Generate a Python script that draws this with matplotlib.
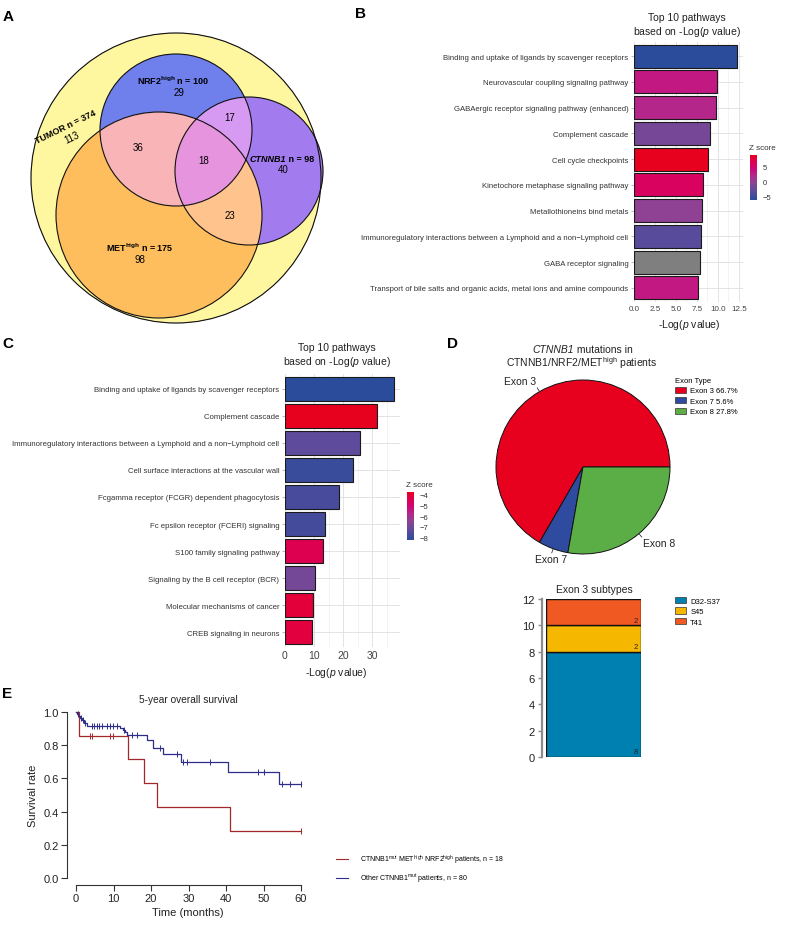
import numpy as np
import matplotlib
matplotlib.use('Agg')
import matplotlib.pyplot as plt
from matplotlib.patches import Circle, Patch
from matplotlib.lines import Line2D
from matplotlib.colors import LinearSegmentedColormap, Normalize, to_rgb
from matplotlib.ticker import MultipleLocator, FormatStrFormatter
import matplotlib.cm as cm

plt.rcParams['font.family'] = ['Liberation Sans', 'DejaVu Sans']
plt.rcParams['mathtext.fontset'] = 'custom'
plt.rcParams['mathtext.rm'] = 'Liberation Sans'
plt.rcParams['mathtext.it'] = 'Liberation Sans:italic'
plt.rcParams['mathtext.bf'] = 'Liberation Sans:bold'

# ---------------- data ----------------
venn_sets = ['TUMOR', 'NRF2', 'CTNNB1', 'MET']
venn_totals = [374, 100, 98, 175]
venn_region_names = ['TUMOR only', 'NRF2 only', 'CTNNB1 only', 'MET only',
                     'NRF2&MET', 'NRF2&CTNNB1', 'MET&CTNNB1', 'NRF2&MET&CTNNB1']
venn_counts = [113, 29, 40, 98, 36, 17, 23, 18]

b_pathways = ['Binding and uptake of ligands by scavenger receptors',
              'Neurovascular coupling signaling pathway',
              'GABAergic receptor signaling pathway (enhanced)',
              'Complement cascade',
              'Cell cycle checkpoints',
              'Kinetochore metaphase signaling pathway',
              'Metallothioneins bind metals',
              'Immunoregulatory interactions between a Lymphoid and a non\u2212Lymphoid cell',
              'GABA receptor signaling',
              'Transport of bile salts and organic acids, metal ions and amine compounds']
b_logp = [12.26, 9.9, 9.75, 9.05, 8.8, 8.2, 8.1, 8.0, 7.85, 7.6]
b_z = [-6.3, 3.0, 2.0, -1.8, 8.7, 5.7, -0.3, -3.6, np.nan, 3.0]

c_pathways = ['Binding and uptake of ligands by scavenger receptors',
              'Complement cascade',
              'Immunoregulatory interactions between a Lymphoid and a non\u2212Lymphoid cell',
              'Cell surface interactions at the vascular wall',
              'Fcgamma receptor (FCGR) dependent phagocytosis',
              'Fc epsilon receptor (FCERI) signaling',
              'S100 family signaling pathway',
              'Signaling by the B cell receptor (BCR)',
              'Molecular mechanisms of cancer',
              'CREB signaling in neurons']
c_logp = [37.6, 31.7, 25.9, 23.4, 18.6, 13.8, 13.1, 10.4, 9.6, 9.4]
c_z = [-8.2, -3.8, -7.3, -7.95, -7.7, -7.75, -4.45, -6.9, -4.15, -4.2]

exon_types = ['Exon 3', 'Exon 7', 'Exon 8']
exon_counts = [12, 1, 5]

subtypes = ['D32-S37', 'S45', 'T41']
subtype_counts = [8, 2, 2]

km_red_t = [0, 0.8, 13.8, 18.0, 21.5, 41.0]
km_red_s = [1.0, 0.857, 0.714, 0.571, 0.429, 0.286]
km_red_cens = [3.7, 4.3, 9.1, 9.8, 60]
km_blue_t = [0, 0.3, 0.6, 1.0, 1.5, 2.2, 3.0, 11.8, 12.4, 13.0, 13.6, 18.8, 20.4, 23.3, 27.9, 40.4, 54.0]
km_blue_s = [1.0, 0.99, 0.975, 0.963, 0.95, 0.935, 0.917, 0.905, 0.893, 0.88, 0.861, 0.83, 0.783, 0.747, 0.697, 0.64, 0.567]
km_blue_cens = [0.5, 1.2, 1.8, 2.5, 4.2, 4.8, 5.5, 6.2, 7.0, 8.2, 9.0, 9.8, 10.8, 12.8, 14.8, 16.2,
                22.4, 26.8, 28.6, 29.5, 35.6, 48.5, 50.2, 54.8, 57.1, 59.9]
km_max_t = 60

# ---------------- figure helpers ----------------
W, H = 787, 928
fig = plt.figure(figsize=(W / 100, H / 100), dpi=100)


def box(x0, y0, x1, y1):
    return fig.add_axes([x0 / W, 1 - y1 / H, (x1 - x0) / W, (y1 - y0) / H])


def ftext(x, y, s, **kw):
    return fig.text(x / W, 1 - y / H, s, **kw)


for lab, (x, y) in zip('ABCDE', [(3, 21), (355, 18), (2, 348), (447, 348), (2, 698)]):
    ftext(x, y, lab, fontsize=11, fontweight='bold', va='baseline')

# ---------------- A: Venn ----------------
axA = box(0, 0, 330, 330)
axA.set_xlim(0, 330)
axA.set_ylim(330, 0)
axA.axis('off')
circ = {'TUMOR': ((176, 179), 145), 'NRF2': ((176, 131), 76),
        'CTNNB1': ((249, 172), 74), 'MET': ((159, 216), 103)}
res = 4
xs = (np.arange(330 * res) + 0.5) / res
X, Y = np.meshgrid(xs, xs)


def inside(name):
    (cx, cy), r = circ[name]
    return (X - cx) ** 2 + (Y - cy) ** 2 <= r ** 2


T, N, C, M = inside('TUMOR'), inside('NRF2'), inside('CTNNB1'), inside('MET')
region_masks = [T & ~N & ~C & ~M, N & ~C & ~M, C & ~N & ~M, M & ~N & ~C,
                N & M & ~C, N & C & ~M, M & C & ~N, N & M & C]
region_colors = ['#FFF7A0', '#6F80EE', '#A27CF0', '#FFBE5E',
                 '#F8B4B6', '#D79AF3', '#FFC48E', '#E794DF']
img = np.zeros(X.shape + (4,))
for mk, col in zip(region_masks, region_colors):
    img[mk, :3] = to_rgb(col)
    img[mk, 3] = 1.0
axA.imshow(img, extent=(0, 330, 330, 0), origin='upper', interpolation='antialiased', zorder=1)
for name in venn_sets:
    (cx, cy), r = circ[name]
    axA.add_patch(Circle((cx, cy), r, fill=False, ec='#111111', lw=0.8, zorder=3))

cnt = dict(zip(venn_region_names, venn_counts))
tot = dict(zip(venn_sets, venn_totals))
fs_v = 6.5
fs_n = 7
axA.text(66, 127, f'TUMOR n = {tot["TUMOR"]}', rotation=26, ha='center', va='center',
         fontsize=fs_v, fontweight='bold', zorder=5)
axA.text(72, 138, f'{cnt["TUMOR only"]}', rotation=26, ha='center', va='center', fontsize=fs_n, zorder=5)
axA.text(173, 81, 'NRF2$^{\\mathregular{high}}$ n = ' + str(tot['NRF2']), ha='center', va='center',
         fontsize=fs_v, fontweight='bold', zorder=5)
axA.text(179, 93, str(cnt['NRF2 only']), ha='center', va='center', fontsize=fs_n, zorder=5)
axA.text(286, 159, 'CTNNB1', ha='right', va='center', fontsize=fs_v, fontweight='bold',
         fontstyle='italic', zorder=5)
axA.text(286, 159, f' n = {tot["CTNNB1"]}', ha='left', va='center', fontsize=fs_v, fontweight='bold', zorder=5)
axA.text(283, 170, str(cnt['CTNNB1 only']), ha='center', va='center', fontsize=fs_n, zorder=5)
axA.text(140, 248, 'MET$^{\\mathregular{high}}$ n = ' + str(tot['MET']), ha='center', va='center',
         fontsize=fs_v, fontweight='bold', zorder=5)
axA.text(140, 260, str(cnt['MET only']), ha='center', va='center', fontsize=fs_n, zorder=5)
axA.text(138, 148, str(cnt['NRF2&MET']), ha='center', va='center', fontsize=fs_n, zorder=5)
axA.text(230, 118, str(cnt['NRF2&CTNNB1']), ha='center', va='center', fontsize=fs_n, zorder=5)
axA.text(204, 161, str(cnt['NRF2&MET&CTNNB1']), ha='center', va='center', fontsize=fs_n, zorder=5)
axA.text(230, 216, str(cnt['MET&CTNNB1']), ha='center', va='center', fontsize=fs_n, zorder=5)

# ---------------- B / C: pathway bars ----------------
z_cmap = LinearSegmentedColormap.from_list(
    'z', [(0, '#2B4C9B'), (0.2, '#5E4B9B'), (0.38, '#8A4494'), (0.55, '#B4278A'),
          (0.7, '#CF0677'), (0.85, '#DE0052'), (1, '#E8001F')])
title_txt = 'Top 10 pathways\nbased on -Log($\\it{p}$ value)'


def pathway_panel(box_px, names, vals, zs, zrange, xlim, major, minor, xtick_fmt, tick_fs,
                  cbar_px, cbar_ticks, title_xy, xlabel_xy):
    ax = box(*box_px)
    norm = Normalize(*zrange)
    y = np.arange(len(names))
    cols = ['#7F7F7F' if np.isnan(z) else z_cmap(norm(z)) for z in zs]
    ax.barh(y, vals, height=0.9, color=cols, edgecolor='#1a1a1a', lw=0.8, zorder=3)
    ax.set_xlim(*xlim)
    ax.set_ylim(len(names) - 0.45, -0.55)
    ax.set_yticks(y)
    ax.set_yticklabels(names, fontsize=5.6, color='#333333')
    ax.xaxis.set_major_locator(MultipleLocator(major))
    ax.xaxis.set_minor_locator(MultipleLocator(minor))
    ax.xaxis.set_major_formatter(FormatStrFormatter(xtick_fmt))
    ax.tick_params(axis='x', labelsize=tick_fs, colors='#444444', length=0, pad=2)
    ax.tick_params(axis='x', which='minor', length=0)
    ax.tick_params(axis='y', length=2, color='#bbbbbb', pad=2)
    ax.grid(True, which='major', color='#dedede', lw=0.6, zorder=0)
    ax.grid(True, which='minor', axis='x', color='#eeeeee', lw=0.5, zorder=0)
    for s in ax.spines.values():
        s.set_visible(False)
    ftext(title_xy[0], title_xy[1], title_txt, ha='center', va='center', fontsize=7.5,
          linespacing=1.15, color='#222222')
    ftext(xlabel_xy[0], xlabel_xy[1], '-Log($\\it{p}$ value)', ha='center', va='center',
          fontsize=7.5, color='#222222')
    cax = box(*cbar_px)
    cb = fig.colorbar(cm.ScalarMappable(norm=norm, cmap=z_cmap), cax=cax)
    cb.outline.set_visible(False)
    cb.set_ticks(cbar_ticks)
    cax.tick_params(labelsize=5.5, length=2, color='white', pad=2, labelcolor='#333333')
    ftext(cbar_px[0] - 1, cbar_px[1] - 7, 'Z score', ha='left', va='center', fontsize=5.8,
          color='#333333')
    return ax


pathway_panel((634, 43, 743, 303), b_pathways, b_logp, b_z, (-6.3, 8.7), (0, 13.0),
              2.5, 1.25, '%.1f', 5.8, (750, 156, 757, 201), [-5, 0, 5], (687, 26), (689, 325))
pathway_panel((285, 375, 400, 648), c_pathways, c_logp, c_z, (-8.2, -3.8), (0, 39.6),
              10, 5, '%d', 7.5, (407, 493, 414, 541), [-8, -7, -6, -5, -4], (337, 356), (336, 673))

# ---------------- D: pie ----------------
axP = box(496, 381, 670, 555)
pie_cols = ['#E8001F', '#2F4BA0', '#5BAD45']
wedges, _ = axP.pie(exon_counts, colors=pie_cols, startangle=0, counterclock=True, radius=1,
                    wedgeprops=dict(edgecolor='#111111', lw=0.7))
axP.set_xlim(-1, 1)
axP.set_ylim(-1, 1)
fr = np.array(exon_counts) / np.sum(exon_counts)
mids = (np.cumsum(fr) - fr / 2) * 2 * np.pi
for name, a in zip(exon_types, mids):
    c, s = np.cos(a), np.sin(a)
    axP.plot([1.0 * c, 1.05 * c], [1.0 * s, 1.05 * s], color='#333333', lw=0.6, clip_on=False)
    ha = 'right' if c < -0.4 else ('left' if c > 0.4 else 'center')
    va = 'top' if s < 0 else 'bottom'
    axP.text(1.07 * c, 1.07 * s, name, ha=ha, va=va, fontsize=7.5, color='#222222', clip_on=False)
ftext(574, 350, 'CTNNB1', ha='right', va='center', fontsize=7.5, fontstyle='italic', color='#222222')
ftext(574, 350, ' mutations in', ha='left', va='center', fontsize=7.5, color='#222222')
ftext(582, 363, 'CTNNB1/NRF2/MET$^{\\mathregular{high}}$ patients', ha='center', va='center',
      fontsize=7.5, color='#222222')
pie_labels = [f'{t} {100 * c / np.sum(exon_counts):.1f}%' for t, c in zip(exon_types, exon_counts)]
legP = axP.legend([Patch(fc=c, ec='#333333', lw=0.5) for c in pie_cols], pie_labels,
                  title='Exon Type', loc='upper left', bbox_to_anchor=(675 / W, 1 - 378 / H),
                  bbox_transform=fig.transFigure, frameon=False, fontsize=5.5, title_fontsize=5.5,
                  handlelength=1.5, handleheight=0.9, labelspacing=0.35, handletextpad=0.5,
                  borderpad=0, borderaxespad=0)
legP._legend_box.align = 'left'

# ---------------- D: stacked bar ----------------
axS = box(546, 600, 641, 758)
st_cols = ['#0080B0', '#F5B700', '#F05A22']
bottom = 0
for name, v, col in zip(subtypes, subtype_counts, st_cols):
    axS.bar(0, v, bottom=bottom, width=1.0, color=col, edgecolor='#111111', lw=1.0, label=name)
    axS.text(0.44, bottom + 0.12, str(v), ha='center', va='bottom', fontsize=5.5, color='#222222')
    bottom += v
axS.set_xlim(-0.5, 0.5)
axS.set_ylim(0, 12)
axS.set_yticks(np.arange(0, 13, 2))
axS.set_xticks([])
for k in ['top', 'right', 'bottom']:
    axS.spines[k].set_visible(False)
axS.spines['left'].set_position(('outward', 3))
axS.spines['left'].set_color('#8c8c8c')
axS.spines['left'].set_linewidth(1.6)
axS.tick_params(axis='y', labelsize=8, length=3, color='#8c8c8c', width=1, pad=2, labelcolor='#222222')
ftext(594, 590, 'Exon 3 subtypes', ha='center', va='center', fontsize=7.5, color='#222222')
axS.legend([Patch(fc=c, ec='#333333', lw=0.5) for c in st_cols], subtypes, loc='upper left',
           bbox_to_anchor=(675 / W, 1 - 598 / H), bbox_transform=fig.transFigure, frameon=False,
           fontsize=5.5, handlelength=1.5, handleheight=0.9, labelspacing=0.35,
           handletextpad=0.5, borderpad=0, borderaxespad=0)

# ---------------- E: Kaplan-Meier ----------------
axE = box(67, 705, 310, 886)
groups = [(km_red_t, km_red_s, km_red_cens, '#A3282C'),
          (km_blue_t, km_blue_s, km_blue_cens, '#2E2E88')]
for t, s, cens, col in groups:
    tt = np.array(list(t) + [km_max_t])
    ss = np.array(list(s) + [s[-1]])
    axE.step(tt, ss, where='post', color=col, lw=0.9)
    idx = np.searchsorted(tt, np.array(cens), side='right') - 1
    axE.plot(cens, ss[idx], ls='none', marker='|', ms=4.5, mew=0.7, color=col)
axE.set_xlim(-2.4, 62.4)
axE.set_ylim(-0.042, 1.048)
axE.set_xticks(np.arange(0, 61, 10))
axE.set_yticks(np.arange(0, 1.01, 0.2))
axE.yaxis.set_major_formatter(FormatStrFormatter('%.1f'))
for k in ['top', 'right']:
    axE.spines[k].set_visible(False)
axE.spines['left'].set_bounds(0, 1)
axE.spines['bottom'].set_bounds(0, 60)
for k in ['left', 'bottom']:
    axE.spines[k].set_color('#333333')
    axE.spines[k].set_linewidth(0.8)
axE.tick_params(labelsize=8, length=4, width=0.8, color='#333333', pad=2, labelcolor='#222222')
ftext(188, 700, '5-year overall survival', ha='center', va='center', fontsize=7.3, color='#222222')
ftext(188, 913, 'Time (months)', ha='center', va='center', fontsize=8, color='#222222')
ftext(33, 796, 'Survival rate', ha='center', va='center', rotation=90, fontsize=8, color='#222222')
km_labels = ['CTNNB1$^{\\mathregular{mut}}$ MET$^{\\mathregular{high}}$ NRF2$^{\\mathregular{high}}$ patients, n = 18',
             'Other CTNNB1$^{\\mathregular{mut}}$ patients, n = 80']
axE.legend([Line2D([], [], color=g[3], lw=0.8) for g in groups], km_labels, loc='upper left',
           bbox_to_anchor=(336 / W, 1 - 854 / H), bbox_transform=fig.transFigure, frameon=False,
           fontsize=5, handlelength=1.7, handletextpad=1.8, labelspacing=0.8, borderpad=0,
           borderaxespad=0)

fig.savefig('out.png', dpi=100)
